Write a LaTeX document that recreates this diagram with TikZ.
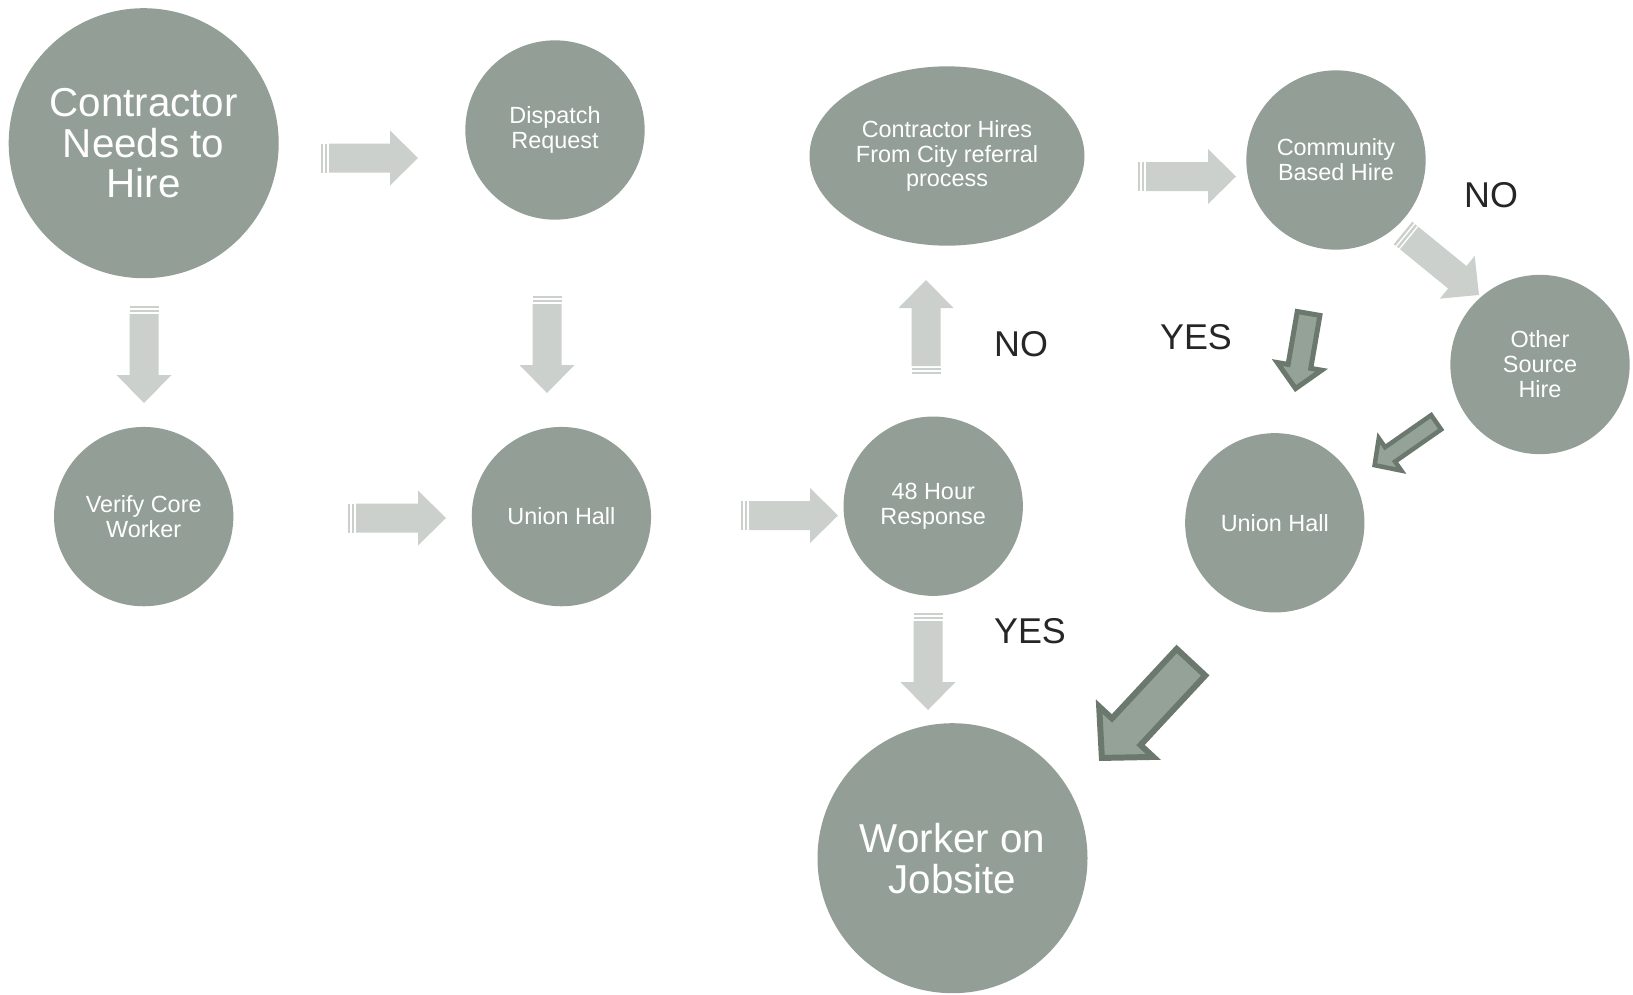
\documentclass[tikz,border=0pt]{standalone}
\usepackage{fontspec}
\setmainfont{Liberation Sans}
\usetikzlibrary{shapes.geometric}
\definecolor{circfill}{HTML}{939F96}
\definecolor{ltarr}{HTML}{CBD0CC}
\definecolor{dkline}{HTML}{6B786E}
\definecolor{dkfill}{HTML}{94A297}
\definecolor{lbl}{HTML}{262626}
\tikzset{
  bubble/.style={circle, fill=circfill, draw=none, minimum size=180, inner sep=0pt, text=white, align=center, font={\fontsize{23.5}{25}\selectfont}},
  bigbubble/.style={bubble, minimum size=271, font={\fontsize{40.5}{41}\selectfont}},
  oval/.style={ellipse, fill=circfill, draw=none, minimum width=276, minimum height=180, inner sep=0pt, text=white, align=center, font={\fontsize{23.5}{25}\selectfont}},
  answer/.style={text=lbl, font={\fontsize{36}{40}\selectfont}, inner sep=0pt},
  ltarrow/.style={fill=ltarr, draw=none},
  dkarrow/.style={fill=dkfill, draw=dkline, line join=miter},
}
\newcommand\LtArrow[4]{%
  \pgfmathsetmacro\arAng{atan2((#4)-(#2),(#3)-(#1))}%
  \pgfmathsetmacro\arLen{veclen((#3)-(#1),(#4)-(#2))}%
  \begin{scope}[shift={(#1,#2)},rotate=-\arAng]
    \fill[ltarrow] (0,-14.5) rectangle (2.3,14.5);
    \fill[ltarrow] (4,-14.5) rectangle (6.3,14.5);
    \fill[ltarrow] (8,-14.5) -- (\arLen-28,-14.5) -- (\arLen-28,-27.5) -- (\arLen,0)
      -- (\arLen-28,27.5) -- (\arLen-28,14.5) -- (8,14.5) -- cycle;
  \end{scope}}
% #1 x1, #2 y1, #3 x2, #4 y2, #5 shaft half, #6 head half, #7 head length, #8 line width
\newcommand\DkArrow[8]{%
  \pgfmathsetmacro\arAng{atan2((#4)-(#2),(#3)-(#1))}%
  \pgfmathsetmacro\arLen{veclen((#3)-(#1),(#4)-(#2))}%
  \begin{scope}[shift={(#1,#2)},rotate=-\arAng]
    \filldraw[dkarrow, line width=#8] (#8/2,-#5+#8/2) -- (\arLen-#7,-#5+#8/2) -- (\arLen-#7,-#6+#8/2)
      -- (\arLen-#8*0.7,0) -- (\arLen-#7,#6-#8/2) -- (\arLen-#7,#5-#8/2) -- (#8/2,#5-#8/2) -- cycle;
  \end{scope}}
\begin{document}
\begin{tikzpicture}[x=1bp,y=-1bp]
\useasboundingbox (0,0) rectangle (1633,994);
\fill[white] (0,0) rectangle (1633,994);

% nodes
\node[bigbubble] (cneed) at (143.7,143.2) {Contractor\\Needs to\\Hire};
\node[bubble] (dispatch) at (555,130) {Dispatch\\Request};
\node[oval] (cityref) at (947,156) {Contractor Hires\\From City referral\\process};
\node[bubble] (community) at (1336,160) {Community\\Based Hire};
\node[bubble] (other) at (1540,364.5) {Other\\Source\\Hire};
\node[bubble] (verify) at (143.7,516.6) {Verify Core\\Worker};
\node[bubble] (union1) at (561.4,516.6) {Union Hall};
\node[bubble] (resp48) at (933.2,506.2) {48 Hour\\Response};
\node[bubble] (union2) at (1274.8,522.8) {Union Hall};
\node[bigbubble] (jobsite) at (952.5,858.2) {Worker on\\Jobsite};

% labels
\node[answer] (no1) at (1491,195) {NO};
\node[answer] (no2) at (1021,344) {NO};
\node[answer] (yes1) at (1196,337) {YES};
\node[answer] (yes2) at (1030,631) {YES};

% light block arrows
\LtArrow{321}{158}{418}{158}
\LtArrow{144}{306}{144}{403}
\LtArrow{547}{296}{547}{393}
\LtArrow{348}{518}{446}{518}
\LtArrow{741}{515.5}{838}{515.5}
\LtArrow{926}{374}{926}{280}
\LtArrow{1138}{176.5}{1236}{176.5}
\LtArrow{1403}{233}{1479}{295}
\LtArrow{928}{613}{928}{710}

% dark outlined arrows
\DkArrow{1309}{311}{1295}{392}{14}{25}{26}{5}
\DkArrow{1438}{421}{1372}{467}{11}{22}{22}{4.5}
\DkArrow{1193}{660}{1099}{761}{22.5}{40}{40}{6}
\end{tikzpicture}
\end{document}
